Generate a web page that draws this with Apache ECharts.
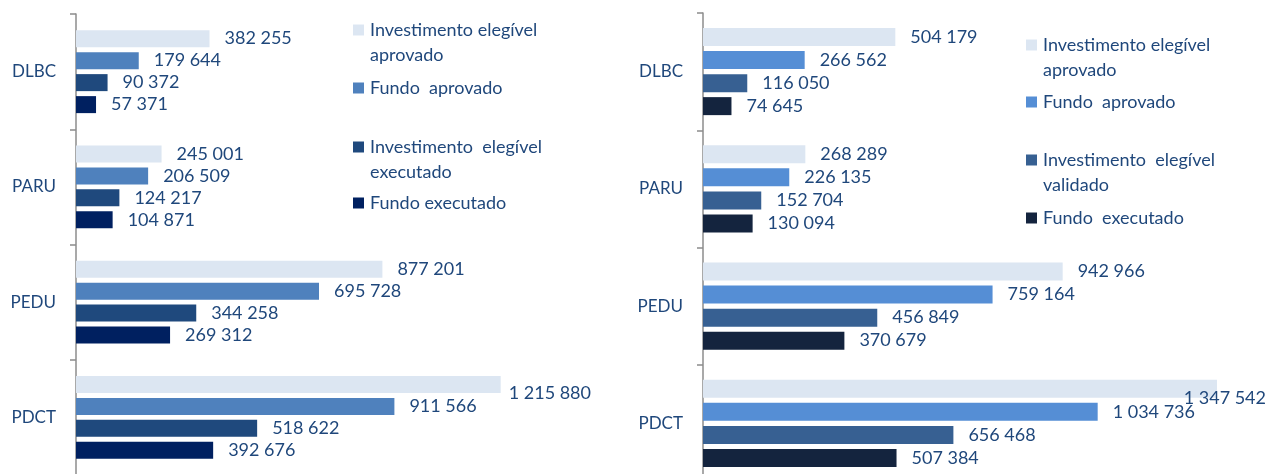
<!DOCTYPE html>
<html>
<head>
<meta charset="utf-8">
<script src="https://cdn.jsdelivr.net/npm/echarts@6/dist/echarts.min.js"></script>
<style>
	html, body { margin: 0; padding: 0; background: #ffffff; overflow: hidden; }
	/* taller than the window: the original's last band runs past the bottom edge */
	#chart { width: 1269px; height: 500px; }
</style>
</head>
<body>
<div id="chart"></div>
<script>
var categories = ['DLBC', 'PARU', 'PEDU', 'PDCT'];

// left panel
var leftNames = ['Investimento elegível aprovado', 'Fundo aprovado', 'Investimento elegível executado', 'Fundo executado'];
var leftLegendLines = [['Investimento elegível', 'aprovado'], ['Fundo  aprovado'], ['Investimento  elegível', 'executado'], ['Fundo executado']];
var invAprovadoL = [382255, 245001, 877201, 1215880];
var fundoAprovadoL = [179644, 206509, 695728, 911566];
var invExecutadoL = [90372, 124217, 344258, 518622];
var fundoExecutadoL = [57371, 104871, 269312, 392676];

// right panel
var rightNames = ['Investimento elegível aprovado', 'Fundo aprovado', 'Investimento elegível validado', 'Fundo executado'];
var rightLegendLines = [['Investimento elegível', 'aprovado'], ['Fundo  aprovado'], ['Investimento  elegível', 'validado'], ['Fundo  executado']];
var invAprovadoR = [504179, 268289, 942966, 1347542];
var fundoAprovadoR = [266562, 226135, 759164, 1034736];
var invValidadoR = [116050, 152704, 456849, 656468];
var fundoExecutadoR = [74645, 130094, 370679, 507384];

var colorsL = ['#dce6f2', '#4f81bd', '#1f497d', '#002060'];
var colorsR = ['#dce6f2', '#558ed5', '#376092', '#14243e'];
var textColor = '#1f477b';
var fontFamily = 'Lato, "Open Sans", sans-serif';

function spaced(v) {
	return String(v).replace(/\B(?=(\d{3})+(?!\d))/g, ' ');
}

function makeSeries(name, data, color, gridIdx, barWidth, rightLimit) {
	return {
		type: 'bar',
		name: name,
		xAxisIndex: gridIdx,
		yAxisIndex: gridIdx,
		data: data,
		barWidth: barWidth,
		barGap: (5 / barWidth * 100).toFixed(1) + '%',
		itemStyle: { color: color },
		label: {
			show: true,
			position: 'right',
			distance: 15,
			color: textColor,
			fontSize: 18,
			fontFamily: fontFamily,
			formatter: function (p) { return spaced(p.value); }
		},
		// keep labels inside the picture, like the original does
		labelLayout: function (params) {
			var r = params.labelRect;
			if (r.x + r.width > rightLimit) {
				return { x: rightLimit - r.width };
			}
		}
	};
}

function makeLegend(name, lines, color, left, firstLineY) {
	var n = lines.length;
	// two-line items get an empty line on top so the square sits on the first line
	var top = n > 1 ? firstLineY - 37.5 : firstLineY - 12.5;
	return {
		data: [{ name: name, itemStyle: { color: color } }],
		left: left,
		top: top,
		padding: 0,
		icon: 'rect',
		itemWidth: 11,
		itemHeight: 11,
		selectedMode: false,
		formatter: function () {
			return n > 1 ? '\n' + lines.join('\n') : lines[0];
		},
		textStyle: {
			color: textColor,
			fontSize: 18,
			fontFamily: fontFamily,
			lineHeight: 25,
			padding: [0, 0, 0, 1]
		}
	};
}

function yAxisFor(gridIdx) {
	return {
		type: 'category',
		gridIndex: gridIdx,
		data: categories,
		inverse: true,
		axisLine: { show: true, lineStyle: { color: '#8c8c8c', width: 1.5 } },
		axisTick: { show: true, length: 6, lineStyle: { color: '#8c8c8c', width: 1.5 } },
		axisLabel: { color: textColor, fontSize: 17, fontFamily: fontFamily, margin: 20 }
	};
}

function xAxisFor(gridIdx, max) {
	return {
		type: 'value',
		gridIndex: gridIdx,
		min: 0,
		max: max,
		show: false,
		splitLine: { show: false }
	};
}

var chart = echarts.init(document.getElementById('chart'));

var leftData = [invAprovadoL, fundoAprovadoL, invExecutadoL, fundoExecutadoL];
var rightData = [invAprovadoR, fundoAprovadoR, invValidadoR, fundoExecutadoR];
var leftLineY = [30, 88, 147, 203];
var rightLineY = [45, 102, 160, 218];

var series = [];
var legends = [];
for (var i = 0; i < 4; i++) {
	series.push(makeSeries(leftNames[i], leftData[i], colorsL[i], 0, 17, 591));
	legends.push(makeLegend(leftNames[i], leftLegendLines[i], colorsL[i], 353, leftLineY[i]));
}
for (var j = 0; j < 4; j++) {
	series.push(makeSeries(rightNames[j], rightData[j], colorsR[j], 1, 18, 1266));
	legends.push(makeLegend(rightNames[j], rightLegendLines[j], colorsR[j], 1026, rightLineY[j]));
}

chart.setOption({
	animation: false,
	grid: [
		{ left: 76, top: 14, width: 489, height: 461 },
		{ left: 703, top: 13, width: 534, height: 469 }
	],
	xAxis: [xAxisFor(0, 1400000), xAxisFor(1, 1400000)],
	yAxis: [yAxisFor(0), yAxisFor(1)],
	legend: legends,
	series: series
});
</script>
</body>
</html>
